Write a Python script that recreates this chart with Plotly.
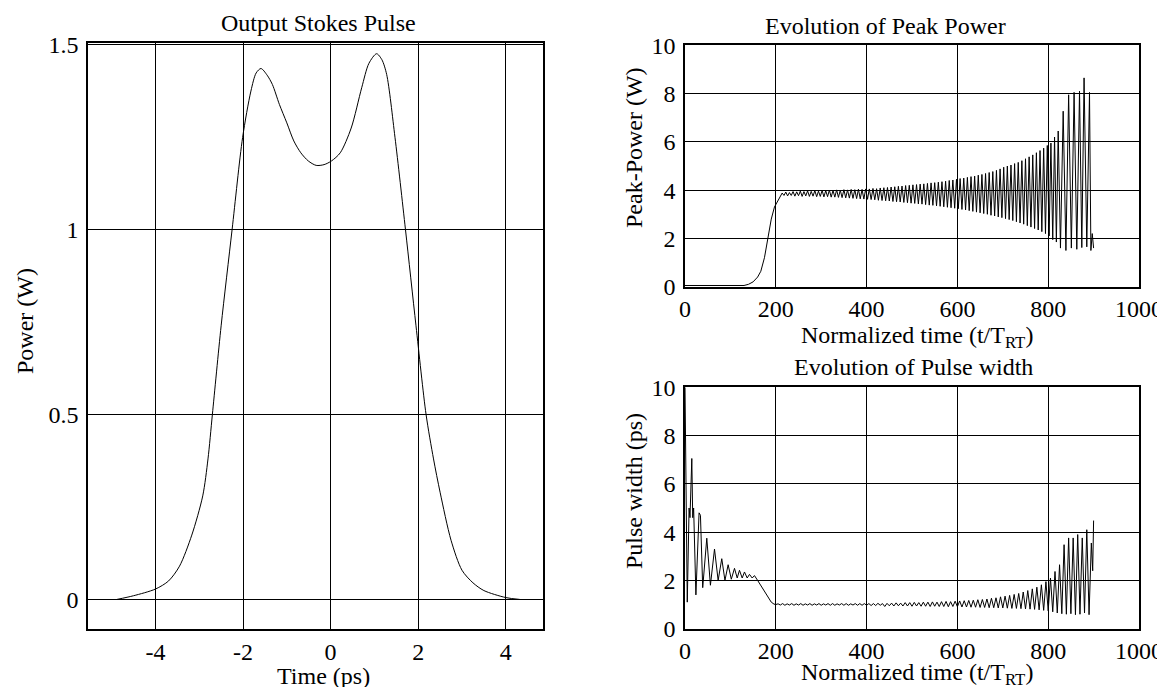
import plotly.graph_objects as go

# ---------------- data ----------------
# Output Stokes pulse (left panel)
time_ps = [-4.88, -4.5, -4.0, -3.7, -3.45, -3.17, -2.92, -2.8, -2.7, -2.5, -2.25, -2.01,
           -1.82, -1.70, -1.59, -1.45, -1.33, -1.17, -1.0, -0.84, -0.68, -0.51, -0.33,
           -0.15, 0.02, 0.22, 0.47, 0.71, 0.875, 1.05, 1.17, 1.28, 1.47, 1.71, 1.95, 2.18,
           2.35, 2.5, 2.75, 3.0, 3.25, 3.5, 4.0, 4.32]
power_w = [0.0, 0.01, 0.028, 0.05, 0.09, 0.174, 0.28, 0.38, 0.5, 0.74, 1.0, 1.249,
           1.375, 1.424, 1.436, 1.418, 1.393, 1.339, 1.289, 1.24, 1.208, 1.186, 1.174,
           1.176, 1.186, 1.208, 1.275, 1.384, 1.45, 1.476, 1.46, 1.42, 1.25, 1.0, 0.74, 0.5,
           0.38, 0.29, 0.16, 0.079, 0.045, 0.024, 0.005, 0.0]

# Evolution of peak power (top right)
pp_start_t = [0, 130, 140, 150, 160, 167, 175, 180, 184, 190, 197, 206, 210]
pp_start_p = [0.05, 0.05, 0.1, 0.2, 0.4, 0.64, 1.2, 1.7, 2.15, 2.8, 3.3, 3.6, 3.75]
pp_peak_t = list(range(214, 800, 8))
pp_peak_p = [3.88, 3.92, 3.90, 3.94, 3.93, 3.96, 3.94, 3.97, 3.95, 3.98, 3.96, 3.99,
             3.98, 4.00, 3.99, 4.01, 4.00, 4.02, 4.01, 4.03, 4.02, 4.04, 4.03, 4.05,
             4.05, 4.07, 4.06, 4.09, 4.10, 4.11, 4.13, 4.14, 4.16, 4.17, 4.19, 4.20, 4.22,
             4.23, 4.25, 4.26, 4.28, 4.30, 4.31, 4.33, 4.35, 4.37, 4.40, 4.42, 4.45,
             4.48, 4.50, 4.53, 4.56, 4.58, 4.62, 4.65, 4.69, 4.73, 4.77, 4.82, 4.88, 4.95,
             5.00, 5.04, 5.10, 5.15, 5.22, 5.30, 5.38, 5.46, 5.55, 5.64, 5.74, 5.85]
pp_trough_t = list(range(218, 800, 8))
pp_trough_p = [3.78, 3.76, 3.78, 3.75, 3.77, 3.74, 3.76, 3.74, 3.75, 3.73, 3.74, 3.72,
               3.73, 3.71, 3.71, 3.70, 3.69, 3.68, 3.67, 3.66, 3.65, 3.64, 3.63, 3.62,
               3.61, 3.60, 3.58, 3.57, 3.56, 3.55, 3.53, 3.52, 3.51, 3.49, 3.48, 3.46,
               3.45, 3.43, 3.42, 3.40, 3.38, 3.37, 3.35, 3.33, 3.31, 3.29, 3.27, 3.25,
               3.23, 3.20, 3.18, 3.15, 3.12, 3.09, 3.06, 3.03, 3.00, 2.96, 2.93, 2.89, 2.86,
               2.82, 2.78, 2.74, 2.69, 2.64, 2.59, 2.53, 2.47, 2.41, 2.35, 2.28, 2.20]
pp_late_peak_t = [806, 814, 822, 833, 845, 857, 869, 879, 891, 897]
pp_late_peak_p = [5.95, 6.20, 6.45, 7.27, 7.95, 8.05, 8.10, 8.65, 8.05, 2.20]
pp_late_trough_t = [802, 810, 818, 827, 839, 851, 863, 874, 885, 894, 900]
pp_late_trough_p = [2.10, 1.95, 1.85, 1.60, 1.50, 1.60, 1.55, 1.62, 1.65, 1.50, 1.60]

# Evolution of pulse width (bottom right)
pw_start_t = [0, 5, 9, 11, 15, 17, 19, 24, 31, 34, 39, 48, 56, 65, 73, 81, 88, 95, 102,
              109, 115, 120, 126, 131, 137, 142, 148, 153, 160, 168, 176, 183, 190, 196, 200]
pw_start_w = [10.0, 1.1, 5.0, 4.6, 7.05, 4.6, 5.0, 1.4, 4.8, 4.7, 1.7, 3.75, 1.8, 3.3, 2.0,
              2.9, 2.0, 2.65, 2.05, 2.5, 2.1, 2.42, 2.1, 2.35, 2.1, 2.25, 2.1, 2.2, 2.0,
              1.75, 1.5, 1.3, 1.1, 1.02, 1.0]
pw_peak_t = list(range(205, 900, 10))
pw_peak_w = [1.03, 1.04, 1.03, 1.04, 1.03, 1.04, 1.03, 1.04, 1.03, 1.04,
             1.03, 1.04, 1.04, 1.03, 1.04, 1.04, 1.03, 1.04, 1.04, 1.04,
             1.04, 1.04, 1.05, 1.04, 1.05, 1.06, 1.07, 1.06, 1.08, 1.08,
             1.09, 1.08, 1.10, 1.10, 1.11, 1.10, 1.12, 1.13, 1.12, 1.14,
             1.15, 1.16, 1.17, 1.18, 1.20, 1.21, 1.23, 1.26, 1.28, 1.32,
             1.35, 1.38, 1.42, 1.46, 1.52, 1.58, 1.65, 1.72, 1.82, 1.95,
             2.10, 2.37, 2.65, 3.48, 3.76, 3.76, 3.90, 3.76, 4.10, 3.55]
pw_trough_t = list(range(210, 900, 10))
pw_trough_w = [0.98, 0.97, 0.98, 0.97, 0.98, 0.97, 0.98, 0.97, 0.98,
               0.97, 0.98, 0.97, 0.97, 0.98, 0.97, 0.97, 0.98, 0.97, 0.97,
               0.97, 0.96, 0.96, 0.97, 0.92, 0.95, 0.94, 0.95, 0.94, 0.94,
               0.93, 0.94, 0.93, 0.93, 0.92, 0.93, 0.92, 0.92, 0.91, 0.92,
               0.91, 0.90, 0.90, 0.89, 0.89, 0.88, 0.88, 0.87, 0.87, 0.86,
               0.86, 0.85, 0.84, 0.84, 0.83, 0.82, 0.81, 0.80, 0.78, 0.76,
               0.74, 0.70, 0.65, 0.62, 0.60, 0.62, 0.58, 0.60, 0.65, 0.58]
pw_end_t = [898, 900]
pw_end_w = [2.4, 4.48]

left_xticks = [-4, -2, 0, 2, 4]
left_xticktext = ["-4", "-2", "0", "2", "4"]
left_yticks = [0, 0.5, 1, 1.5]
left_yticktext = ["0", "0.5", "1", "1.5"]
right_xticks = [0, 200, 400, 600, 800, 1000]
right_yticks = [0, 2, 4, 6, 8, 10]


def merge(start_pairs, *groups):
    """Join a leading run with several (t, v) groups, ordered by time."""
    t0, v0 = start_pairs
    pts = []
    for gt, gv in groups:
        pts += list(zip(gt, gv))
    pts.sort()
    return list(t0) + [p[0] for p in pts], list(v0) + [p[1] for p in pts]


pp_t, pp_v = merge((pp_start_t, pp_start_p), (pp_peak_t, pp_peak_p),
                   (pp_trough_t, pp_trough_p), (pp_late_peak_t, pp_late_peak_p),
                   (pp_late_trough_t, pp_late_trough_p))
pw_t, pw_v = merge((pw_start_t, pw_start_w), (pw_peak_t, pw_peak_w),
                   (pw_trough_t, pw_trough_w), (pw_end_t, pw_end_w))

# ---------------- figure ----------------
W, H = 1165, 687
FONT = "Liberation Serif"
FS = 24


def px(x):
    return x / W


def py(y):
    return 1 - y / H


fig = go.Figure()
fig.add_trace(go.Scatter(x=time_ps, y=power_w, mode="lines",
                         line=dict(color="black", width=1, shape="spline", smoothing=0.8),
                         xaxis="x", yaxis="y", showlegend=False))
fig.add_trace(go.Scatter(x=pp_t, y=pp_v, mode="lines",
                         line=dict(color="black", width=1),
                         xaxis="x2", yaxis="y2", showlegend=False))
fig.add_trace(go.Scatter(x=pw_t, y=pw_v, mode="lines",
                         line=dict(color="black", width=1),
                         xaxis="x3", yaxis="y3", showlegend=False))

axis_common = dict(showline=True, mirror=True, linecolor="black", linewidth=1.5,
                   showgrid=True, gridcolor="black", gridwidth=1, zeroline=False,
                   ticks="", tickfont=dict(family=FONT, size=FS, color="black"),
                   fixedrange=True, automargin=False)

fig.update_layout(
    width=W, height=H,
    margin=dict(l=0, r=0, t=0, b=0, autoexpand=False),
    paper_bgcolor="white", plot_bgcolor="white",
    font=dict(family=FONT, size=FS, color="black"),
    xaxis=dict(domain=[px(80), px(535)], range=[-5.54, 4.85], anchor="y",
               tickvals=left_xticks, ticktext=left_xticktext, ticklabelstandoff=0, **axis_common),
    yaxis=dict(domain=[py(621), py(35)], range=[-0.08, 1.505], anchor="x",
               tickvals=left_yticks, ticktext=left_yticktext, ticklabelstandoff=3, **axis_common),
    xaxis2=dict(domain=[px(677), px(1131)], range=[0, 1000], anchor="y2",
                tickvals=right_xticks, ticklabelstandoff=0, **axis_common),
    yaxis2=dict(domain=[py(278.7), py(37.3)], range=[0, 10], anchor="x2",
                tickvals=right_yticks, ticklabelstandoff=3, **axis_common),
    xaxis3=dict(domain=[px(677), px(1131)], range=[0, 1000], anchor="y3",
                tickvals=right_xticks, ticklabelstandoff=0, **axis_common),
    yaxis3=dict(domain=[py(620.7), py(379.3)], range=[0, 10], anchor="x3",
                tickvals=right_yticks, ticklabelstandoff=3, **axis_common),
)


def note(text, x, y, angle=0):
    fig.add_annotation(text=text, x=px(x), y=py(y), xref="paper", yref="paper",
                       showarrow=False, textangle=angle, xanchor="center", yanchor="middle",
                       font=dict(family=FONT, size=FS, color="black"))


note("Output Stokes Pulse", 310, 15)
note("Time (ps)", 316, 668)
note("Power (W)", 17, 313, -90)
note("Evolution of Peak Power", 877, 18)
note("Normalized time (t/T<sub>RT</sub>)", 909, 329)
note("Peak-Power (W)", 626, 140, -90)
note("Evolution of Pulse width", 905, 359)
note("Normalized time (t/T<sub>RT</sub>)", 909, 666)
note("Pulse width (ps)", 626, 483, -90)

fig.write_html("out.html")
